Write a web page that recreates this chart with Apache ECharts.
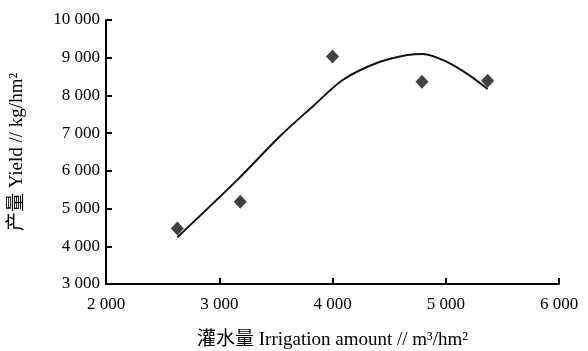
<!DOCTYPE html>
<html>
<head>
<meta charset="utf-8">
<script src="https://cdn.jsdelivr.net/npm/echarts@6/dist/echarts.min.js"></script>
<style>
  html, body { margin: 0; padding: 0; background: #fff; }
  #chart { width: 588px; height: 351px; }
</style>
</head>
<body>
<div id="chart"></div>
<script>
// 实测点 (灌水量, 产量)
var observed = [
  [2630, 4470],
  [3185, 5180],
  [4000, 9030],
  [4790, 8360],
  [5370, 8390]
]
// 拟合曲线
var fitted = [
  [2630, 4240], [3160, 5760], [3540, 6930], [3830, 7720], [4090, 8410],
  [4390, 8860], [4660, 9070], [4800, 9100], [5010, 8890], [5190, 8570],
  [5370, 8170]
]
var xTicks = [2000, 3000, 4000, 5000, 6000]
var yTicks = [3000, 4000, 5000, 6000, 7000, 8000, 9000, 10000]

var FONT = '"Liberation Serif", "Noto Sans CJK SC", serif'

function fmt(v) {
  return String(v).replace(/\B(?=(\d{3})+(?!\d))/g, ' ')
}

var chart = echarts.init(document.getElementById('chart'), null, { renderer: 'canvas' })
chart.setOption({
  animation: false,
  backgroundColor: '#fff',
  grid: { left: 106, right: 29, top: 20, bottom: 67, outerBoundsMode: 'none' },
  xAxis: {
    type: 'value',
    min: xTicks[0],
    max: xTicks[xTicks.length - 1],
    interval: 1000,
    name: '灌水量 Irrigation amount // m³/hm²',
    nameLocation: 'middle',
    nameGap: 47,
    nameTextStyle: { color: '#000', fontSize: 19, fontFamily: FONT },
    axisLine: { lineStyle: { color: '#000', width: 2 } },
    axisTick: { inside: true, length: 6, lineStyle: { color: '#000', width: 2 } },
    axisLabel: { color: '#000', fontSize: 17, fontFamily: FONT, margin: 12, formatter: fmt },
    splitLine: { show: false }
  },
  yAxis: {
    type: 'value',
    min: yTicks[0],
    max: yTicks[yTicks.length - 1],
    interval: 1000,
    name: '产量 Yield // kg/hm²',
    nameLocation: 'middle',
    nameGap: 79,
    nameRotate: 90,
    nameTextStyle: { color: '#000', fontSize: 19, fontFamily: FONT },
    axisLine: { show: true, lineStyle: { color: '#000', width: 2 } },
    axisTick: { show: true, inside: true, length: 6, lineStyle: { color: '#000', width: 2 } },
    axisLabel: { color: '#000', fontSize: 17, fontFamily: FONT, margin: 6, formatter: fmt },
    splitLine: { show: false }
  },
  series: [
    {
      type: 'line',
      data: fitted,
      smooth: 0.3,
      showSymbol: false,
      lineStyle: { color: '#111', width: 2 },
      z: 2
    },
    {
      type: 'scatter',
      data: observed,
      symbol: 'diamond',
      symbolSize: [13, 14],
      itemStyle: { color: '#111' },
      z: 3
    }
  ]
})
</script>
</body>
</html>
